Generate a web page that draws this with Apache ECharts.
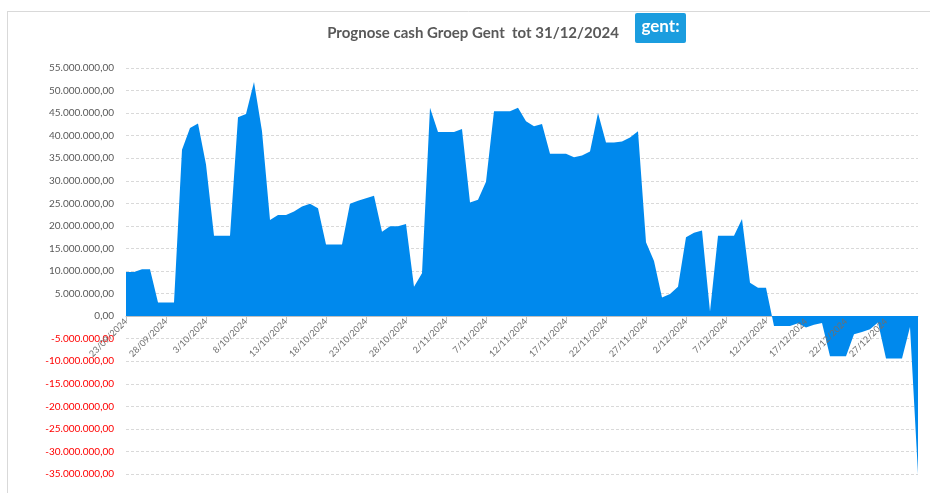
<!DOCTYPE html>
<html>
<head>
<meta charset="utf-8">
<script src="https://cdn.jsdelivr.net/npm/echarts@6/dist/echarts.min.js"></script>
<style>
html,body{margin:0;padding:0;background:#fff;}
#chart{width:930px;height:493px;}
</style>
</head>
<body>
<div id="chart"></div>
<script>
// Chart title
var titleText = 'Prognose cash Groep Gent  tot 31/12/2024';
var logoText = 'gent:';

// First date and number of days of the daily category axis
var startDate = [2024, 9, 23];
var dayCount = 100;
var labelEvery = 5;

// Daily cash forecast values (EUR), 23/09/2024 .. 31/12/2024
var cashValues = [
  9800000, 9800000, 10400000, 10400000, 3000000, 3000000, 3000000, 36900000, 41700000, 42700000,
  33600000, 17800000, 17800000, 17800000, 44100000, 44800000, 51900000, 41000000, 21300000, 22400000,
  22400000, 23200000, 24300000, 24900000, 23900000, 15900000, 15900000, 15900000, 24900000, 25600000,
  26100000, 26700000, 18700000, 19900000, 19900000, 20400000, 6500000, 9500000, 46200000, 40800000,
  40800000, 40800000, 41500000, 25200000, 25800000, 29800000, 45400000, 45400000, 45400000, 46200000,
  43200000, 42100000, 42600000, 36000000, 36000000, 36000000, 35200000, 35600000, 36500000, 45000000,
  38500000, 38500000, 38700000, 39600000, 41000000, 16400000, 12200000, 4100000, 4900000, 6500000,
  17500000, 18500000, 19000000, 1000000, 17800000, 17800000, 17800000, 21500000, 7400000, 6300000,
  6300000, -2200000, -2200000, -2200000, -1600000, -2500000, -1900000, -1500000, -8900000, -8900000,
  -8900000, -4000000, -3500000, -2900000, -1400000, -9400000, -9400000, -9400000, -2400000, -35000000
];

// Y axis range
var yMin = -35000000, yMax = 55000000, yStep = 5000000;

function buildDates() {
  var out = [];
  var d = new Date(startDate[0], startDate[1] - 1, startDate[2]);
  for (var i = 0; i < dayCount; i++) {
    var dd = new Date(d.getTime());
    dd.setDate(d.getDate() + i);
    var m = dd.getMonth() + 1;
    out.push(dd.getDate() + '/' + (m < 10 ? '0' + m : m) + '/' + dd.getFullYear());
  }
  return out;
}
var dates = buildDates();
// tick label anchors on the zero line, every 5th day
var tickLabelData = dates.filter(function (d, i) { return i % labelEvery === 0; })
  .map(function (d) { return [d, 0]; });

function fmt(v) {
  var neg = v < 0;
  var s = Math.abs(Math.round(v)).toString();
  s = s.replace(/\B(?=(\d{3})+(?!\d))/g, '.');
  return (neg ? '-' : '') + s + ',00';
}

var gridTop = 68, gridBottom = 19, chartH = 493;
var plotH = chartH - gridTop - gridBottom;
// distance from bottom of plot to the zero line (computed from the axis range)
var zeroOffset = plotH * (0 - yMin) / (yMax - yMin);

var chart = echarts.init(document.getElementById('chart'), null, {renderer: 'canvas'});
var option = {
  animation: false,
  backgroundColor: '#ffffff',
  textStyle: {fontFamily: 'Lato, "Noto Sans", sans-serif'},
  title: {
    text: titleText,
    left: 468, top: 21, textAlign: 'center',
    textStyle: {fontFamily: 'Lato, "Noto Sans", sans-serif', fontSize: 15, fontWeight: 'bold', color: '#595959'}
  },
  graphic: [
    {type: 'line', shape: {x1: 7, y1: 11.5, x2: 930, y2: 11.5}, style: {stroke: '#d9d9d9', lineWidth: 1}, silent: true},
    {type: 'line', shape: {x1: 7.5, y1: 11, x2: 7.5, y2: 493}, style: {stroke: '#d9d9d9', lineWidth: 1}, silent: true},
    {type: 'rect', shape: {x: 635, y: 13, width: 51, height: 30, r: 2}, style: {fill: '#1b9ddf'}, silent: true},
    {type: 'text', x: 660.5, y: 27, style: {text: logoText, fill: '#ffffff', fontSize: 17, fontWeight: 'bold', fontFamily: 'Lato, "Noto Sans", sans-serif', align: 'center', verticalAlign: 'middle'}, silent: true}
  ],
  grid: {left: 126, right: 12, top: gridTop, bottom: gridBottom, containLabel: false, outerBoundsMode: 'none'},
  xAxis: {
    type: 'category',
    data: dates,
    boundaryGap: false,
    position: 'bottom',
    offset: -zeroOffset,
    axisLine: {onZero: false, lineStyle: {color: '#bfbfbf', width: 1}},
    axisTick: {show: true, interval: labelEvery - 1, length: 5, lineStyle: {color: '#bfbfbf'}},
    axisLabel: {show: false},
    splitLine: {show: false}
  },
  yAxis: {
    type: 'value',
    min: yMin, max: yMax, interval: yStep,
    axisLine: {show: false},
    axisTick: {show: false},
    axisLabel: {
      fontSize: 10, margin: 12, fontFamily: 'Lato, "Noto Sans", sans-serif',
      formatter: function (v) { return fmt(v); },
      color: function (v) { return Number(v) < 0 ? '#ff0000' : '#595959'; }
    },
    splitLine: {show: true, lineStyle: {color: '#d9d9d9', type: [3, 2], width: 1}}
  },
  series: [{
    type: 'line',
    data: cashValues,
    showSymbol: false,
    symbol: 'none',
    lineStyle: {width: 0, color: '#0089ed'},
    itemStyle: {color: '#0089ed'},
    areaStyle: {color: '#0089ed', opacity: 1, origin: 0},
    z: 2
  }, {
    type: 'custom',
    data: tickLabelData,
    encode: {x: 0, y: 1},
    silent: true,
    clip: false,
    z: 20,
    renderItem: function (params, api) {
      var pt = api.coord([api.value(0), api.value(1)]);
      return {
        type: 'text',
        x: pt[0],
        y: pt[1] + 4,
        rotation: Math.PI / 4,
        style: {
          text: dates[params.dataIndex * labelEvery],
          align: 'right',
          verticalAlign: 'middle',
          fontSize: 9,
          fill: '#6f6f6f',
          fontFamily: 'Lato, "Noto Sans", sans-serif'
        }
      };
    }
  }]
};
chart.setOption(option);
</script>
</body>
</html>
